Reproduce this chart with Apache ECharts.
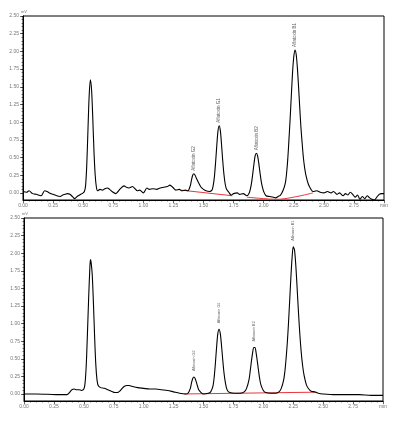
<!DOCTYPE html>
<html>
<head>
<meta charset="utf-8">
<script src="https://cdn.jsdelivr.net/npm/echarts@6/dist/echarts.min.js"></script>
<style>
  html, body { margin: 0; padding: 0; background: #fff; }
  #chart { width: 397px; height: 424px; }
</style>
</head>
<body>
<div id="chart"></div>
<script>
// --- data (time in min, signal in mV) ---
const topTrace = [
  [0.00, 0.02], [0.03, 0.01], [0.05, 0.03], [0.08, -0.01], [0.11, -0.02], [0.15, -0.04], [0.18, 0.03],
  [0.20, 0.02], [0.22, 0.00], [0.25, -0.02], [0.28, -0.04], [0.31, -0.05], [0.33, -0.03], [0.35, -0.02],
  [0.37, -0.01], [0.39, -0.02], [0.41, -0.05], [0.43, -0.08], [0.45, -0.05], [0.47, -0.03], [0.49, -0.01],
  [0.50, 0.00], [0.51, 0.02], [0.52, 0.10], [0.53, 0.40], [0.54, 0.90], [0.55, 1.38], [0.56, 1.60],
  [0.57, 1.45], [0.58, 1.05], [0.59, 0.58], [0.60, 0.25], [0.61, 0.08], [0.62, 0.03], [0.64, 0.05],
  [0.66, 0.04], [0.68, 0.06], [0.70, 0.07], [0.72, 0.05], [0.74, 0.02], [0.77, -0.01], [0.79, 0.02],
  [0.81, 0.06], [0.84, 0.10], [0.86, 0.08], [0.88, 0.07], [0.91, 0.09], [0.93, 0.06], [0.95, 0.03],
  [0.97, 0.04], [1.00, 0.00], [1.03, 0.07], [1.05, 0.05], [1.08, 0.06], [1.11, 0.05], [1.14, 0.07],
  [1.17, 0.08], [1.20, 0.09], [1.22, 0.11], [1.25, 0.07], [1.27, 0.04], [1.30, 0.05], [1.32, 0.03],
  [1.35, 0.04], [1.37, 0.03], [1.39, 0.10], [1.40, 0.18], [1.41, 0.25], [1.42, 0.27], [1.43, 0.25],
  [1.44, 0.21], [1.46, 0.14], [1.48, 0.08], [1.50, 0.05], [1.52, 0.03], [1.55, 0.02], [1.57, 0.04],
  [1.58, 0.10], [1.59, 0.22], [1.60, 0.42], [1.61, 0.66], [1.62, 0.87], [1.63, 0.95], [1.64, 0.88],
  [1.65, 0.68], [1.66, 0.45], [1.67, 0.26], [1.68, 0.13], [1.69, 0.06], [1.71, 0.01], [1.73, -0.03],
  [1.75, -0.01], [1.78, 0.00], [1.80, -0.02], [1.83, -0.01], [1.86, -0.04], [1.88, 0.00], [1.89, 0.06],
  [1.90, 0.15], [1.91, 0.28], [1.92, 0.42], [1.93, 0.53], [1.94, 0.56], [1.95, 0.52], [1.96, 0.41],
  [1.97, 0.28], [1.98, 0.16], [1.99, 0.08], [2.00, 0.02], [2.02, -0.04], [2.05, -0.05], [2.08, -0.06],
  [2.10, -0.07], [2.12, -0.05], [2.14, -0.03], [2.16, 0.03], [2.18, 0.14], [2.19, 0.27], [2.20, 0.47],
  [2.21, 0.75], [2.22, 1.05], [2.23, 1.38], [2.24, 1.70], [2.25, 1.92], [2.26, 2.02], [2.27, 1.96],
  [2.28, 1.77], [2.29, 1.50], [2.30, 1.20], [2.31, 0.92], [2.32, 0.70], [2.33, 0.50], [2.34, 0.36],
  [2.35, 0.26], [2.37, 0.13], [2.39, 0.06], [2.41, 0.02], [2.44, 0.03], [2.47, 0.01], [2.50, 0.00],
  [2.53, 0.02], [2.56, 0.00], [2.58, 0.02], [2.61, -0.02], [2.63, 0.00], [2.66, -0.04], [2.68, -0.01],
  [2.70, -0.03], [2.72, 0.01], [2.74, -0.02], [2.76, -0.06], [2.78, -0.03], [2.80, -0.09], [2.82, -0.05],
  [2.84, -0.08], [2.86, -0.04], [2.88, -0.07], [2.90, -0.09], [2.92, -0.10], [2.94, -0.06], [2.96, -0.02],
  [2.98, -0.01], [3.00, -0.01]
];

const bottomTrace = [
  [0.00, 0.00], [0.10, 0.00], [0.20, -0.005], [0.30, -0.01], [0.36, -0.01], [0.38, 0.02], [0.40, 0.06],
  [0.42, 0.07], [0.44, 0.06], [0.46, 0.06], [0.48, 0.05], [0.50, 0.07], [0.51, 0.15], [0.52, 0.40],
  [0.53, 0.85], [0.54, 1.35], [0.55, 1.78], [0.555, 1.91], [0.56, 1.88], [0.57, 1.70], [0.58, 1.30],
  [0.59, 0.82], [0.60, 0.42], [0.61, 0.20], [0.62, 0.12], [0.64, 0.09], [0.67, 0.08], [0.70, 0.06],
  [0.73, 0.04], [0.76, 0.02], [0.78, 0.02], [0.80, 0.04], [0.82, 0.08], [0.84, 0.11], [0.86, 0.12],
  [0.88, 0.12], [0.90, 0.11], [0.95, 0.09], [1.00, 0.08], [1.05, 0.07], [1.10, 0.07], [1.15, 0.06],
  [1.20, 0.05], [1.25, 0.03], [1.30, 0.01], [1.35, 0.00], [1.37, 0.01], [1.39, 0.08], [1.40, 0.16],
  [1.41, 0.22], [1.42, 0.24], [1.43, 0.22], [1.44, 0.17], [1.45, 0.11], [1.46, 0.06], [1.48, 0.02],
  [1.50, 0.00], [1.54, 0.01], [1.56, 0.03], [1.58, 0.12], [1.59, 0.25], [1.60, 0.45], [1.61, 0.68],
  [1.62, 0.86], [1.63, 0.92], [1.64, 0.86], [1.65, 0.70], [1.66, 0.50], [1.67, 0.32], [1.68, 0.19],
  [1.69, 0.10], [1.70, 0.05], [1.72, 0.02], [1.76, 0.01], [1.80, 0.01], [1.84, 0.03], [1.86, 0.08],
  [1.88, 0.20], [1.89, 0.32], [1.90, 0.46], [1.91, 0.58], [1.92, 0.66], [1.93, 0.66], [1.94, 0.58],
  [1.95, 0.46], [1.96, 0.33], [1.97, 0.21], [1.98, 0.13], [2.00, 0.05], [2.02, 0.02], [2.06, 0.01],
  [2.10, 0.01], [2.13, 0.03], [2.15, 0.08], [2.17, 0.20], [2.18, 0.32], [2.19, 0.50], [2.20, 0.72],
  [2.21, 1.00], [2.22, 1.32], [2.23, 1.65], [2.24, 1.93], [2.25, 2.09], [2.26, 2.05], [2.27, 1.86],
  [2.28, 1.58], [2.29, 1.27], [2.30, 0.98], [2.31, 0.73], [2.32, 0.53], [2.33, 0.38], [2.34, 0.27],
  [2.36, 0.13], [2.38, 0.07], [2.40, 0.04], [2.43, 0.03], [2.46, 0.01], [2.50, 0.00], [2.60, -0.01],
  [2.70, -0.01], [2.80, -0.01], [2.90, -0.02], [3.00, -0.02]
];

// integration baselines (red)
const topBaselineA = [[1.31, 0.04], [1.74, -0.04]];
const topBaselineB = [[1.86, -0.06], [2.11, -0.09], [2.41, 0.00]];
const bottomBaseline = [[1.34, 0.00], [2.43, 0.025]];

// peak names and apex positions
const peakNames = ["Aflatoxin G2", "Aflatoxin G1", "Aflatoxin B2", "Aflatoxin B1"];
const topPeakTimes = [1.42, 1.63, 1.94, 2.26];
const topPeakHeights = [0.27, 0.95, 0.56, 2.02];
const bottomPeakTimes = [1.42, 1.63, 1.925, 2.25];
const bottomPeakHeights = [0.24, 0.92, 0.66, 2.09];

// tick labels
const yTickValues = [0, 0.25, 0.5, 0.75, 1.0, 1.25, 1.5, 1.75, 2.0, 2.25, 2.5];
const yMinorTicks = [];
for (let v = 0; v <= 2.5001; v += 0.05) yMinorTicks.push(Math.round(v * 100) / 100);

const chart = echarts.init(document.getElementById("chart"), null, { renderer: "canvas" });

function peakItems(times, heights) {
  return peakNames.map((n, i) => ({ name: n, value: [times[i], heights[i]] }));
}

function xAxisFor(gridIndex) {
  return {
    type: "value",
    gridIndex: gridIndex,
    min: 0,
    max: 3,
    interval: 0.25,
    axisLine: { show: true, onZero: false, lineStyle: { color: "#000", width: 1 } },
    axisTick: { show: true, length: 3, lineStyle: { color: "#000", width: 0.6 } },
    minorTick: { show: true, splitNumber: 5, length: 1.5, lineStyle: { color: "#000", width: 0.5 } },
    axisLabel: {
      fontSize: 5,
      color: "#777",
      margin: 3,
      fontFamily: "Liberation Sans",
      formatter: function (v) {
        return v >= 3 ? "min" : v.toFixed(2);
      },
    },
    splitLine: { show: false },
  };
}

function yAxisFor(gridIndex, nameOffset) {
  return {
    type: "value",
    gridIndex: gridIndex,
    min: -0.1,
    max: 2.5,
    name: "mV",
    nameLocation: "end",
    nameGap: nameOffset,
    nameTextStyle: { fontSize: 4, color: "#777", align: "left", padding: [0, 0, 0, -2] },
    axisLine: { show: true, lineStyle: { color: "#000", width: 1 } },
    axisTick: { show: true, length: 3, customValues: yTickValues, lineStyle: { color: "#000", width: 0.6 } },
    axisLabel: {
      fontSize: 5,
      color: "#777",
      margin: 4,
      fontFamily: "Liberation Sans",
      customValues: yTickValues,
      formatter: function (v) {
        return v.toFixed(2);
      },
    },
    splitLine: { show: false },
  };
}

function yMinorAxisFor(gridIndex) {
  return {
    type: "value",
    gridIndex: gridIndex,
    min: -0.1,
    max: 2.5,
    position: "left",
    axisLine: { show: false },
    axisTick: { show: true, length: 1.5, customValues: yMinorTicks, lineStyle: { color: "#000", width: 0.5 } },
    axisLabel: { show: false },
    splitLine: { show: false },
  };
}

function labelSeries(xIdx, yIdx, items, size, dist) {
  return {
    type: "scatter",
    xAxisIndex: xIdx,
    yAxisIndex: yIdx,
    data: items,
    symbolSize: 0,
    silent: true,
    z: 5,
    label: {
      show: true,
      formatter: "{b}",
      position: "top",
      distance: dist,
      rotate: 90,
      align: "left",
      verticalAlign: "middle",
      offset: [2, 0],
      fontSize: size,
      color: "#333",
      fontFamily: "Liberation Sans",
    },
  };
}

const option = {
  animation: false,
  backgroundColor: "#fff",
  grid: [
    { left: 23, top: 16, width: 361, height: 184, show: true, borderColor: "#000", borderWidth: 1, backgroundColor: "transparent" },
    { left: 24, top: 218, width: 359, height: 183, show: true, borderColor: "#000", borderWidth: 1, backgroundColor: "transparent" },
  ],
  xAxis: [xAxisFor(0), xAxisFor(1)],
  yAxis: [yAxisFor(0, -3), yAxisFor(1, 1), yMinorAxisFor(0), yMinorAxisFor(1)],
  series: [
    {
      type: "line",
      xAxisIndex: 0,
      yAxisIndex: 0,
      data: topTrace,
      smooth: 0.3,
      symbol: "none",
      lineStyle: { color: "#000", width: 1.1 },
      z: 3,
    },
    {
      type: "line",
      xAxisIndex: 0,
      yAxisIndex: 0,
      data: topBaselineA,
      symbol: "none",
      lineStyle: { color: "#e8363c", width: 1 },
      z: 2,
    },
    {
      type: "line",
      xAxisIndex: 0,
      yAxisIndex: 0,
      data: topBaselineB,
      symbol: "none",
      smooth: 0.3,
      lineStyle: { color: "#e8363c", width: 1 },
      z: 2,
    },
    labelSeries(0, 0, peakItems(topPeakTimes, topPeakHeights), 4.5, 1),
    {
      type: "line",
      xAxisIndex: 1,
      yAxisIndex: 1,
      data: bottomTrace,
      smooth: 0.3,
      symbol: "none",
      lineStyle: { color: "#000", width: 1.1 },
      z: 3,
    },
    {
      type: "line",
      xAxisIndex: 1,
      yAxisIndex: 1,
      data: bottomBaseline,
      symbol: "none",
      lineStyle: { color: "#e8363c", width: 1 },
      z: 2,
    },
    labelSeries(1, 1, peakItems(bottomPeakTimes, bottomPeakHeights), 3.8, 4),
  ],
};

chart.setOption(option);
window.addEventListener("resize", function () {
  chart.resize();
});
</script>
</body>
</html>
